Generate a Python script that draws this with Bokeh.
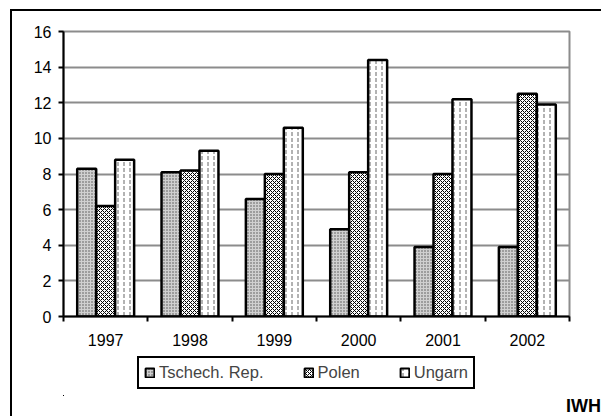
from bokeh.plotting import figure
from bokeh.models import (Range1d, FixedTicker, Legend, LegendItem, Div, ColumnDataSource)
from bokeh.layouts import column
from bokeh.embed import file_html
from bokeh.resources import INLINE

years = ["1997", "1998", "1999", "2000", "2001", "2002"]
tschech = [8.3, 8.1, 6.6, 4.9, 3.9, 3.9]
polen = [6.2, 8.2, 8.0, 8.1, 8.0, 12.5]
ungarn = [8.8, 9.3, 10.6, 14.4, 12.2, 11.9]
series_names = ["Tschech. Rep.", "Polen", "Ungarn"]
y_ticks = [0, 2, 4, 6, 8, 10, 12, 14, 16]
source_note = "IWH"

W, H1, H2, H3 = 601, 356, 40, 20

def frame_line_styles(top_line):
    if top_line:
        return {
            "background-image": "linear-gradient(#000, #000), linear-gradient(#000, #000)",
            "background-position": "10px 9px, 10px 9px",
            "background-size": "2px 1000px, 1000px 2px",
            "background-repeat": "no-repeat",
        }
    return {
        "background-image": "linear-gradient(#000, #000)",
        "background-position": "10px 0px",
        "background-size": "2px 1000px",
        "background-repeat": "no-repeat",
    }

# ---- main chart ----
p = figure(width=W, height=H1, output_backend="svg", toolbar_location=None,
           x_range=Range1d(0, len(years)), y_range=Range1d(0, 16),
           min_border_left=63, min_border_top=31, min_border_right=32, min_border_bottom=40)
p.styles = frame_line_styles(True)
p.background_fill_color = "white"
p.border_fill_alpha = 0
p.outline_line_color = "#8c8c8c"
p.outline_line_width = 2

centers = [i + 0.5 for i in range(len(years))]
bw = 0.225
styles = [
    dict(fill_color="#d0d0d0", hatch_pattern="dot", hatch_scale=3, hatch_color="#505050", hatch_weight=1),
    dict(fill_color="white", hatch_pattern="diagonal_cross", hatch_scale=4, hatch_color="black", hatch_weight=1.0),
    dict(fill_color="white", hatch_pattern="vertical_dash", hatch_scale=6, hatch_color="#666666", hatch_weight=1),
]
all_vals = [tschech, polen, ungarn]
for k, (vals, st) in enumerate(zip(all_vals, styles)):
    src = ColumnDataSource(dict(x=[c + (k - 1) * bw for c in centers], top=vals))
    p.vbar(x="x", top="top", width=bw, bottom=0, source=src,
           line_color="black", line_width=2.5, **st)

p.xaxis.ticker = FixedTicker(ticks=centers, minor_ticks=list(range(len(years) + 1)))
p.xaxis.major_label_overrides = {c: y for c, y in zip(centers, years)}
p.xaxis.major_tick_out = 0
p.xaxis.major_tick_in = 0
p.xaxis.minor_tick_out = 5
p.xaxis.minor_tick_in = 0
p.xaxis.minor_tick_line_width = 2
p.xaxis.minor_tick_line_color = "black"
p.xaxis.axis_line_width = 2
p.xaxis.axis_line_color = "black"
p.xaxis.major_label_standoff = 12
p.xaxis.major_label_text_font = "Liberation Sans"
p.xaxis.major_label_text_font_size = "16px"
p.xaxis.major_label_text_color = "black"

p.yaxis.ticker = FixedTicker(ticks=y_ticks)
p.yaxis.major_tick_out = 5
p.yaxis.major_tick_in = 0
p.yaxis.major_tick_line_width = 2
p.yaxis.minor_tick_line_color = None
p.yaxis.axis_line_width = 2
p.yaxis.axis_line_color = "black"
p.yaxis.major_label_standoff = 7
p.yaxis.major_label_text_font = "Liberation Sans"
p.yaxis.major_label_text_font_size = "16px"
p.yaxis.major_label_text_color = "black"

p.xgrid.grid_line_color = None
p.ygrid.ticker = FixedTicker(ticks=y_ticks)
p.ygrid.grid_line_color = "#8c8c8c"
p.ygrid.grid_line_width = 2

# ---- legend strip below ----
q = figure(width=W, height=H2, output_backend="svg", toolbar_location=None,
           x_range=Range1d(0, 1), y_range=Range1d(0, 1),
           x_axis_location=None, y_axis_location=None,
           min_border=0, min_border_left=0, min_border_right=0, min_border_top=0, min_border_bottom=0)
q.styles = frame_line_styles(False)
q.grid.grid_line_color = None
q.outline_line_color = None
q.background_fill_alpha = 0
q.border_fill_alpha = 0
q.extra_x_ranges = {"hidden": Range1d(100, 200)}
q.extra_y_ranges = {"hidden": Range1d(100, 200)}
leg_renderers = []
for k, (vals, st) in enumerate(zip(all_vals, styles)):
    src = ColumnDataSource(dict(x=[c + (k - 1) * bw for c in centers], top=vals))
    r = q.vbar(x="x", top="top", width=bw, bottom=0, source=src,
               x_range_name="hidden", y_range_name="hidden",
               line_color="black", line_width=2, **st)
    leg_renderers.append(r)

items = [LegendItem(label=n, renderers=[r]) for n, r in zip(series_names, leg_renderers)]
legend = Legend(items=items, orientation="horizontal", location=(74, 7),
                glyph_width=11, glyph_height=11, label_height=19, label_standoff=4,
                padding=5, spacing=39, margin=0,
                label_text_font="Liberation Sans", label_text_font_size="16.5px",
                border_line_color="black", border_line_width=2, border_line_alpha=1,
                background_fill_color="white")
q.add_layout(legend, "center")

# ---- source note ----
div_styles = frame_line_styles(False)
div_styles.update({"font-family": "Liberation Sans", "font-weight": "bold", "font-size": "18px",
                   "line-height": "20px", "text-align": "right", "color": "black"})
d = Div(text=source_note, width=W, height=H3, margin=0, styles=div_styles)

layout = column(p, q, d, spacing=0)
open("out.html", "w").write(file_html(layout, INLINE))
